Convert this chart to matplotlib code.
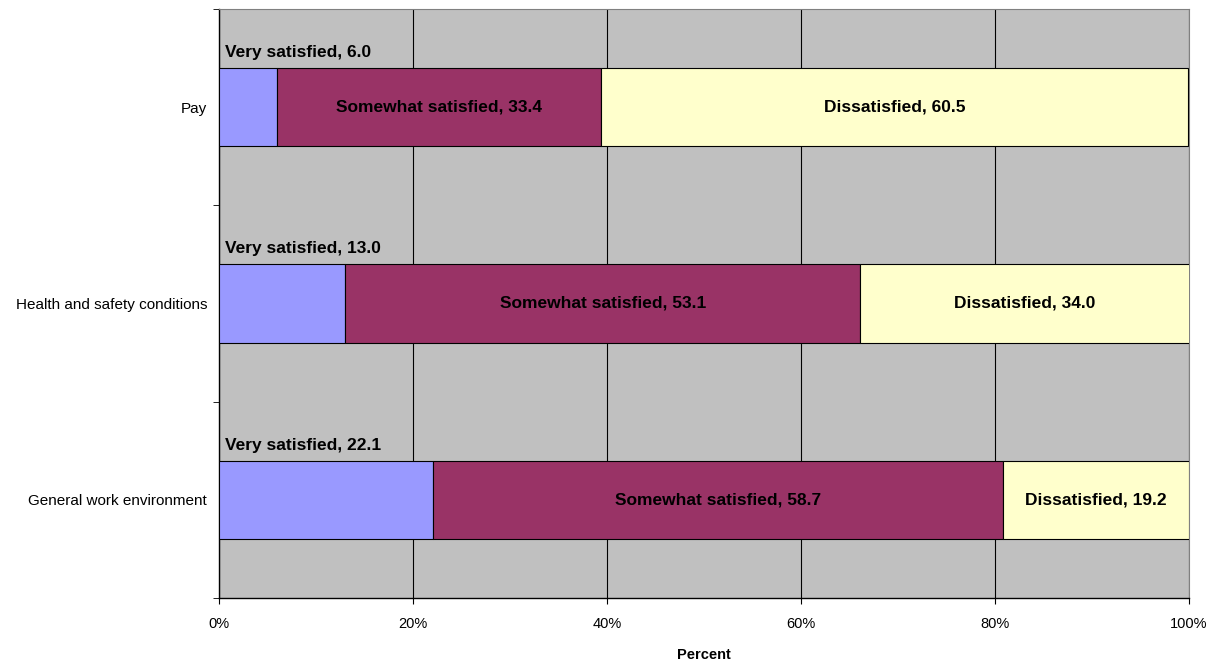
import matplotlib.pyplot as plt
import numpy as np

plt.rcParams['font.family'] = ['Liberation Sans', 'DejaVu Sans']

categories = ["General work environment", "Health and safety conditions", "Pay"]
very_satisfied = [22.1, 13.0, 6.0]
somewhat_satisfied = [58.7, 53.1, 33.4]
dissatisfied = [19.2, 34.0, 60.5]
series_names = ["Very satisfied", "Somewhat satisfied", "Dissatisfied"]
colors = ["#9999FF", "#993366", "#FFFFCC"]

fig = plt.figure(figsize=(12.15, 6.61), dpi=100)
ax = fig.add_axes([219 / 1215, 63 / 661, 970 / 1215, 589 / 661])
ax.set_facecolor("#C0C0C0")

y = np.arange(len(categories))
h = 0.4
left = np.zeros(len(categories))
for name, vals, c in zip(series_names, [very_satisfied, somewhat_satisfied, dissatisfied], colors):
    vals = np.array(vals)
    ax.barh(y, vals, height=h, left=left, color=c, edgecolor="black", linewidth=0.8, zorder=3)
    for i, v in enumerate(vals):
        if name == "Very satisfied":
            ax.text(left[i] + 0.6, y[i] + h / 2 + 0.04, f"{name}, {v:.1f}", ha="left", va="bottom",
                    fontsize=12.5, fontweight="bold", zorder=4)
        else:
            ax.text(left[i] + v / 2, y[i], f"{name}, {v:.1f}", ha="center", va="center",
                    fontsize=12.5, fontweight="bold", zorder=4)
    left = left + vals

ax.set_xlim(0, 100)
ax.set_ylim(-0.5, len(categories) - 0.5)
ax.set_xticks(np.arange(0, 101, 20))
ax.set_xticklabels([f"{t}%" for t in range(0, 101, 20)], fontsize=10.5)
ax.xaxis.grid(True, color="black", linewidth=0.8, zorder=1)
ax.set_axisbelow(True)
ax.set_yticks(y)
ax.set_yticklabels(categories, fontsize=11)
ax.tick_params(axis="y", length=0, pad=8.5)
ax.set_yticks(np.arange(-0.5, len(categories), 1), minor=True)
ax.tick_params(axis="y", which="minor", length=4, direction="out")
ax.tick_params(axis="x", length=4, direction="out", pad=10)
ax.set_xlabel("Percent", fontsize=10.5, fontweight="bold", labelpad=12)

for s in ["top", "right"]:
    ax.spines[s].set_color("#808080")
    ax.spines[s].set_linewidth(0.8)
for s in ["left", "bottom"]:
    ax.spines[s].set_color("black")
    ax.spines[s].set_linewidth(1.0)

fig.savefig("out.png", dpi=100)
